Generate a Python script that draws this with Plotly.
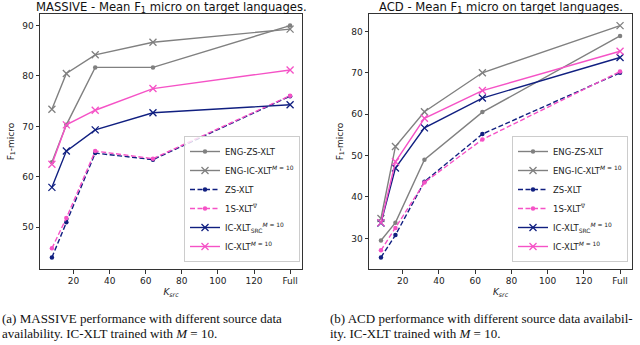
import plotly.graph_objects as go

# ---------------- data ----------------
K_SRC = [8, 16, 32, 64, 140]          # 140 = position of "Full"
X_TICKVALS = [20, 40, 60, 80, 100, 120, 140]
X_TICKTEXT = ["20", "40", "60", "80", "100", "120", "Full"]

# MASSIVE
m_eng_zs = [62.9, 70.3, 81.7, 81.7, 90.0]
m_eng_ic = [73.4, 80.5, 84.2, 86.7, 89.3]
m_zs = [44.0, 51.0, 64.7, 63.4, 76.0]
m_1s = [45.8, 51.8, 65.1, 63.6, 76.1]
m_ic_src = [57.9, 65.1, 69.3, 72.7, 74.3]
m_ic = [62.5, 70.3, 73.2, 77.5, 81.2]

# ACD
a_eng_zs = [29.5, 33.8, 49.0, 60.5, 78.9]
a_eng_ic = [34.8, 52.2, 60.6, 70.0, 81.4]
a_zs = [25.4, 30.8, 43.7, 55.2, 70.0]
a_1s = [27.1, 32.5, 43.5, 53.9, 70.3]
a_ic_src = [33.7, 47.0, 56.7, 63.9, 73.7]
a_ic = [33.8, 48.5, 59.0, 65.7, 75.2]

NAMES = ["ENG-ZS-XLT",
         "ENG-IC-XLT<sup><i>M</i> = 10</sup>",
         "ZS-XLT",
         "1S-XLT<sup>∇</sup>",
         "IC-XLT<sub>SRC</sub><sup><i>M</i> = 10</sup>",
         "IC-XLT<sup><i>M</i> = 10</sup>"]

GRAY = "#808080"
NAVY = "#101f80"
PINK = "#f552c6"
STYLES = [
    dict(color=GRAY, dash="solid", sym="circle"),
    dict(color=GRAY, dash="solid", sym="x-thin"),
    dict(color=NAVY, dash="5px,2.5px", sym="circle"),
    dict(color=PINK, dash="5px,2.5px", sym="circle"),
    dict(color=NAVY, dash="solid", sym="x-thin"),
    dict(color=PINK, dash="solid", sym="x-thin"),
]

FONT = "DejaVu Sans"
fig = go.Figure()


def add_series(series, xa, ya, legend):
    for name, vals, st in zip(NAMES, series, STYLES):
        if st["sym"] == "circle":
            marker = dict(symbol="circle", size=4.5, color=st["color"])
        else:
            marker = dict(symbol="x-thin", size=7, color=st["color"],
                          line=dict(width=1.3, color=st["color"]))
        fig.add_trace(go.Scatter(
            x=K_SRC, y=vals, name=name, mode="lines+markers",
            line=dict(color=st["color"], width=1.4, dash=st["dash"]),
            marker=marker, xaxis=xa, yaxis=ya, legend=legend))


add_series([m_eng_zs, m_eng_ic, m_zs, m_1s, m_ic_src, m_ic], "x", "y", "legend")
add_series([a_eng_zs, a_eng_ic, a_zs, a_1s, a_ic_src, a_ic], "x2", "y2", "legend2")

W, H = 640, 345
yd = [1 - 269 / H, 1 - 14 / H]
TICK = 9
axis_common = dict(showgrid=False, zeroline=False, showline=True, mirror=True,
                   linecolor="#333", linewidth=1, ticks="outside", ticklen=3.5,
                   tickwidth=1, tickcolor="#333",
                   tickfont=dict(family=FONT, size=TICK, color="#222"))

xcommon = dict(axis_common, tickvals=X_TICKVALS, ticktext=X_TICKTEXT,
               range=[1.4, 146.6],
               title=dict(text="<i>K<sub>src</sub></i>",
                          font=dict(family=FONT, size=TICK, color="#222"),
                          standoff=3))
ycommon = dict(axis_common,
               title=dict(text="F<sub>1</sub>-micro",
                          font=dict(family=FONT, size=TICK, color="#222"),
                          standoff=6))

legend_common = dict(bgcolor="rgba(255,255,255,0.8)", bordercolor="#cccccc",
                     borderwidth=1, font=dict(family=FONT, size=8.5, color="#222"),
                     xanchor="right", yanchor="bottom", tracegroupgap=0,
                     itemwidth=30)

fig.update_layout(
    width=W, height=H,
    margin=dict(l=0, r=0, t=0, b=0),
    paper_bgcolor="white", plot_bgcolor="white",
    font=dict(family=FONT, color="#222"),
    xaxis=dict(xcommon, domain=[40 / W, 302 / W], anchor="y"),
    yaxis=dict(ycommon, domain=yd, range=[41.7, 92.3], anchor="x",
               tickvals=[50, 60, 70, 80, 90]),
    xaxis2=dict(xcommon, domain=[369 / W, 632 / W], anchor="y2"),
    yaxis2=dict(ycommon, domain=yd, range=[22.6, 84.2], anchor="x2",
                tickvals=[30, 40, 50, 60, 70, 80]),
    legend=dict(legend_common, x=300 / W, y=1 - 262 / H),
    legend2=dict(legend_common, x=628 / W, y=1 - 262 / H),
    showlegend=True,
)

title_font = dict(family=FONT, size=11.6, color="#111")
fig.add_annotation(text="MASSIVE - Mean F<sub>1</sub> micro on target languages.",
                   x=(40 + 302) / 2 / W, y=1 - 7.5 / H, xref="paper", yref="paper",
                   showarrow=False, font=title_font, xanchor="center", yanchor="middle")
fig.add_annotation(text="ACD - Mean F<sub>1</sub> micro on target languages.",
                   x=(369 + 632) / 2 / W, y=1 - 7.5 / H, xref="paper", yref="paper",
                   showarrow=False, font=title_font, xanchor="center", yanchor="middle")

cap_font = dict(family="Liberation Serif", size=13, color="#111")
CAPTIONS = [
    (0, 318, "(a) MASSIVE performance with different source data"),
    (0, 333, "availability. IC-XLT trained with <i>M</i> = 10."),
    (328, 318, "(b) ACD performance with different source data availabil-"),
    (328, 333, "ity. IC-XLT trained with <i>M</i> = 10."),
]
for cx, cy, txt in CAPTIONS:
    fig.add_annotation(text=txt, x=cx / W, y=1 - cy / H, xref="paper", yref="paper",
                       showarrow=False, font=cap_font, xanchor="left",
                       yanchor="middle", align="left")

fig.write_html("out.html",
               config={"displayModeBar": False},
               post_script="document.body.style.margin='0';"
                           "document.body.style.overflow='hidden';")
